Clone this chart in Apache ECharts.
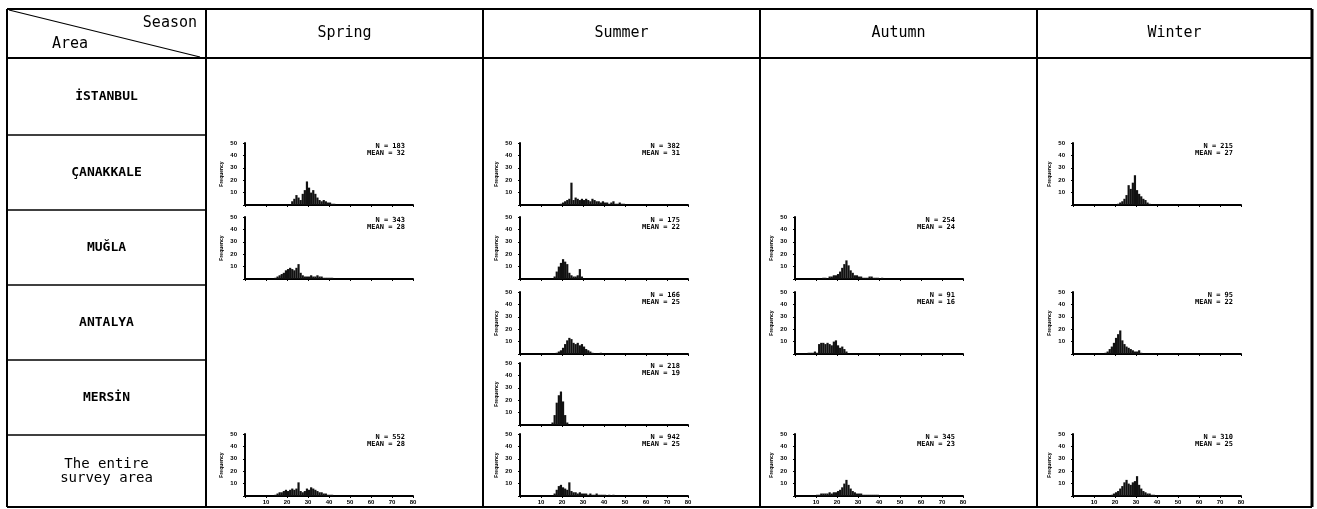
<!DOCTYPE html>
<html>
<head>
<meta charset="utf-8">
<script src="https://cdn.jsdelivr.net/npm/echarts@6/dist/echarts.min.js"></script>
<style>
  html, body { margin: 0; padding: 0; background: #fff; }
  #main { width: 1317px; height: 509px; }
</style>
</head>
<body>
<div id="main"></div>
<script>
// seasons / areas of the table
var seasons = ['Spring', 'Summer', 'Autumn', 'Winter'];
var areas = ['İSTANBUL', 'ÇANAKKALE', 'MUĞLA', 'ANTALYA', 'MERSİN', 'The entire\nsurvey area'];

// axis ticks
var yTicks = [0, 10, 20, 30, 40, 50];
var xTicks = [0, 10, 20, 30, 40, 50, 60, 70, 80];

// frequencies per length class, each list starts at the "from" length given in the panel list
var springCanakkale = [3, 5, 8, 6, 4, 9, 12, 19, 14, 10, 12, 9, 6, 4, 3, 4, 3, 2, 2, 1, 1];            // 22..42
var springMugla = [1, 2, 3, 4, 5, 7, 8, 9, 8, 7, 9, 12, 5, 3, 2, 2, 2, 3, 2, 2, 3, 2, 2, 1, 1, 1, 1, 1]; // 14..41
var springEntire = [1, 2, 3, 3, 4, 5, 4, 5, 6, 5, 6, 11, 4, 3, 4, 6, 5, 7, 6, 5, 4, 3, 3, 2, 2, 1, 1, 1]; // 14..41

var summerCanakkale = [1, 2, 3, 4, 5, 18, 4, 6, 5, 4, 5, 4, 5, 4, 3, 5, 4, 3, 3, 2, 3, 2, 2, 1, 2, 3, 1, 1, 2, 1, 1]; // 19..49
var summerMugla = [2, 6, 10, 13, 16, 14, 12, 5, 3, 2, 2, 3, 8, 2];                                     // 16..29
var summerAntalya = [1, 2, 3, 5, 8, 11, 13, 12, 9, 8, 9, 7, 8, 6, 4, 3, 2, 1, 0, 0, 0, 1];              // 17..38
var summerMersin = [2, 8, 18, 24, 27, 19, 8, 2];                                                        // 15..22
var summerEntire = [2, 5, 8, 9, 7, 6, 5, 11, 4, 3, 3, 2, 3, 2, 2, 2, 1, 2, 1, 1, 2, 1, 1, 1, 1, 0, 1, 0, 1]; // 16..44

var autumnMugla = [1, 1, 0, 2, 2, 3, 3, 4, 6, 9, 12, 15, 11, 7, 5, 3, 3, 2, 2, 1, 1, 1, 2, 2, 1, 1, 1, 0, 1]; // 13..41
var autumnAntalya = [1, 1, 1, 2, 1, 8, 9, 9, 8, 9, 8, 7, 10, 11, 7, 5, 6, 4, 2];                          // 6..24
var autumnEntire = [1, 1, 2, 2, 2, 2, 3, 2, 3, 3, 4, 5, 7, 10, 13, 9, 6, 4, 3, 2, 2, 2, 1, 1, 1, 1, 1, 1, 1, 1]; // 10..39

var winterCanakkale = [1, 2, 3, 5, 8, 16, 13, 18, 24, 12, 9, 7, 5, 4, 2, 1];                           // 21..36
var winterAntalya = [1, 2, 4, 6, 9, 13, 16, 19, 11, 8, 6, 5, 4, 3, 2, 2, 3, 1];                        // 15..32
var winterEntire = [1, 2, 3, 4, 6, 8, 11, 13, 10, 9, 11, 12, 16, 9, 6, 4, 3, 2, 2, 1, 1];               // 18..38

// sample size and mean printed in each panel
var panels = [
    {season: 0, area: 1, from: 22, freq: springCanakkale, n: 183, mean: 32},
    {season: 0, area: 2, from: 14, freq: springMugla, n: 343, mean: 28},
    {season: 0, area: 5, from: 14, freq: springEntire, n: 552, mean: 28},
    {season: 1, area: 1, from: 19, freq: summerCanakkale, n: 382, mean: 31},
    {season: 1, area: 2, from: 16, freq: summerMugla, n: 175, mean: 22},
    {season: 1, area: 3, from: 17, freq: summerAntalya, n: 166, mean: 25},
    {season: 1, area: 4, from: 15, freq: summerMersin, n: 218, mean: 19},
    {season: 1, area: 5, from: 16, freq: summerEntire, n: 942, mean: 25},
    {season: 2, area: 2, from: 13, freq: autumnMugla, n: 254, mean: 24},
    {season: 2, area: 3, from: 6, freq: autumnAntalya, n: 91, mean: 16},
    {season: 2, area: 5, from: 10, freq: autumnEntire, n: 345, mean: 23},
    {season: 3, area: 1, from: 21, freq: winterCanakkale, n: 215, mean: 27},
    {season: 3, area: 3, from: 15, freq: winterAntalya, n: 95, mean: 22},
    {season: 3, area: 5, from: 18, freq: winterEntire, n: 310, mean: 25}
];

// table layout
var tableLeft = 7, tableTop = 9, tableRight = 1312, tableBottom = 507;
var colEdges = [206, 483, 760, 1037];
var rowEdges = [58, 135, 210, 285, 360, 435];
var colAxisX = [245, 520, 795, 1073];
var rowPlotTop = [0, 143, 217, 292, 363, 434];
var plotW = 168, plotH = 62;

var monoFont = '"DejaVu Sans Mono", "Liberation Mono", monospace';

var myChart = echarts.init(document.getElementById('main'));

var graphics = [];
function line(x1, y1, x2, y2, w) {
    graphics.push({
        type: 'line', silent: true,
        shape: {x1: x1, y1: y1, x2: x2, y2: y2},
        style: {stroke: '#000', lineWidth: w}
    });
}
function text(str, x, y, font, align) {
    graphics.push({
        type: 'text', silent: true,
        style: {text: str, x: x, y: y, font: font, fill: '#000',
            textAlign: align || 'center', textVerticalAlign: 'middle'}
    });
}

// frame
line(tableLeft, tableTop, tableRight, tableTop, 2);
line(tableLeft, tableBottom, tableRight, tableBottom, 2);
line(tableLeft, tableTop, tableLeft, tableBottom, 2);
line(tableRight, tableTop, tableRight, tableBottom, 3);
colEdges.forEach(function (x) {
    line(x, tableTop, x, tableBottom, 2);
});
line(tableLeft, rowEdges[0], tableRight, rowEdges[0], 2);
for (var r = 1; r < rowEdges.length; r++) {
    line(tableLeft, rowEdges[r], colEdges[0], rowEdges[r], 1.5);
}
// diagonal header cell
line(tableLeft + 2, tableTop + 1, colEdges[0] - 6, rowEdges[0] - 1, 1.2);
text('Season', 197, 23, '15px ' + monoFont, 'right');
text('Area', 52, 44, '15px ' + monoFont, 'left');

// season headers
seasons.forEach(function (s, i) {
    var x0 = colEdges[i], x1 = i < 3 ? colEdges[i + 1] : tableRight;
    text(s, (x0 + x1) / 2, 33, '15px ' + monoFont);
});

// area names
areas.forEach(function (a, i) {
    var y0 = rowEdges[i], y1 = i < 5 ? rowEdges[i + 1] : tableBottom;
    text(a, (tableLeft + colEdges[0]) / 2, (y0 + y1) / 2,
        (i < 5 ? 'bold 13px ' : '14px ') + monoFont);
});

var grids = [], xAxes = [], yAxes = [], series = [];
panels.forEach(function (p, i) {
    var left = colAxisX[p.season], top = rowPlotTop[p.area];
    grids.push({left: left, top: top, width: plotW, height: plotH});
    xAxes.push({
        type: 'value', gridIndex: i, min: xTicks[0], max: xTicks[xTicks.length - 1], interval: 10,
        axisLine: {lineStyle: {color: '#000', width: 2}},
        axisTick: {show: true, length: 2, lineStyle: {color: '#000'}},
        axisLabel: {
            show: p.area === 5, fontSize: 6, fontWeight: 'bold', color: '#000', margin: 3,
            formatter: function (v) { return v === 0 ? '' : v; }
        },
        splitLine: {show: false}
    });
    yAxes.push({
        type: 'value', gridIndex: i, min: yTicks[0], max: yTicks[yTicks.length - 1], interval: 10,
        name: 'Frequency', nameLocation: 'middle', nameRotate: 90, nameGap: 21,
        nameTextStyle: {fontSize: 5, color: '#000', fontWeight: 'bold'},
        axisLine: {show: true, lineStyle: {color: '#000', width: 2}},
        axisTick: {show: true, length: 2, lineStyle: {color: '#000'}},
        axisLabel: {
            fontSize: 6, fontWeight: 'bold', color: '#000', margin: 8,
            formatter: function (v) { return v === 0 ? '' : v; }
        },
        splitLine: {show: false}
    });
    series.push({
        type: 'bar', xAxisIndex: i, yAxisIndex: i, silent: true,
        barWidth: 2.2,
        itemStyle: {color: '#111'},
        data: p.freq.map(function (f, k) { return [p.from + k + 0.5, f]; })
    });
    text('N = ' + p.n, left + plotW - 8, top + 3, 'bold 7px ' + monoFont, 'right');
    text('MEAN = ' + p.mean, left + plotW - 8, top + 10, 'bold 7px ' + monoFont, 'right');
});

myChart.setOption({
    animation: false,
    backgroundColor: '#fff',
    grid: grids,
    xAxis: xAxes,
    yAxis: yAxes,
    series: series,
    graphic: graphics
});
</script>
</body>
</html>
